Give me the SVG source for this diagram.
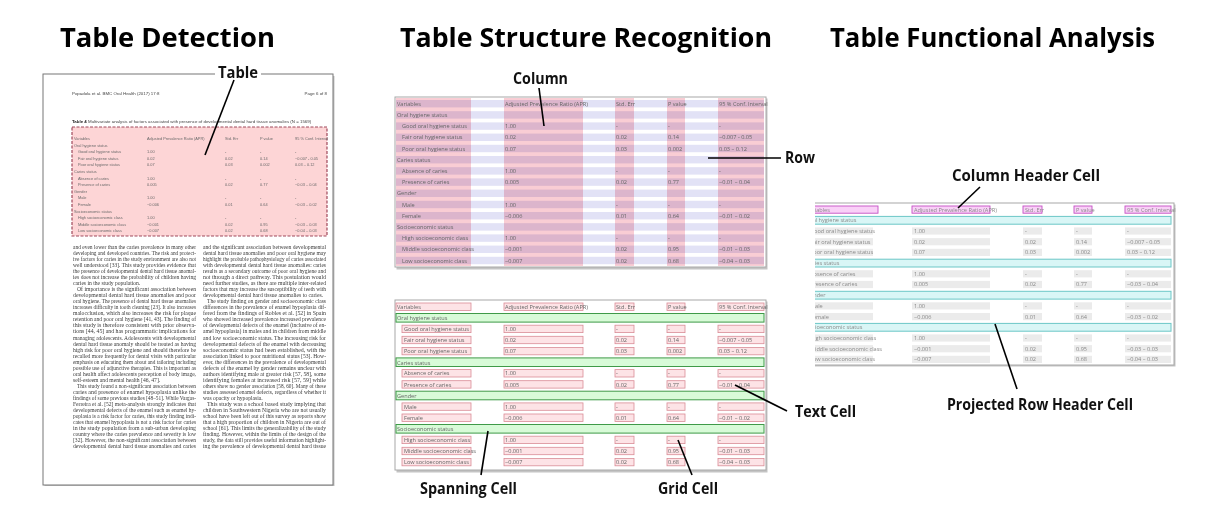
<svg xmlns="http://www.w3.org/2000/svg" width="1223" height="526" viewBox="0 0 1223 526">
<style>
.title{font-family:"Open Sans","Liberation Sans",sans-serif;font-weight:bold;font-size:27px;fill:#000}
.lbl{font-family:"Open Sans","Liberation Sans",sans-serif;font-weight:bold;font-size:16px;fill:#111}
.conn line{stroke:#000;stroke-width:1.6;fill:none}
.tt{font-family:"Open Sans","Liberation Sans",sans-serif;font-size:5.6px;fill:#666}
.frame{fill:#fff;stroke:#a8a8a8;stroke-width:1}
.shadow{fill:#c4c4c4}
.colband{fill:#f9cdd4;mix-blend-mode:multiply}
.rowband{fill:#e2e2f6}
.cell{fill:#fde3e6;stroke:#d98c96;stroke-width:0.8}
.span{fill:#d8fbd8;stroke:#3f9a48;stroke-width:1}
.hcell{fill:#f9d0f7;stroke:#c44fc4;stroke-width:0.9}
.gcell{fill:#ebebeb}
.pspan{fill:#d9f6f6;stroke:#6cc7c7;stroke-width:1}
.body{font-family:"Liberation Serif",serif;font-size:5.6px;fill:#3a3a3a}
.ptab{font-family:"Liberation Sans",sans-serif;font-size:3.9px;fill:#6a6a6a}
.phead{font-family:"Liberation Sans",sans-serif;font-size:4.4px;fill:#444}
.page{fill:#fff;stroke:#777;stroke-width:1}
</style>
<defs>
<clipPath id="clipFA"><rect x="815" y="190" width="380" height="190"/></clipPath>
</defs>
<rect width="1223" height="526" fill="#fff"/>

<g id="titles">
<text class="title" x="60" y="47" textLength="215" lengthAdjust="spacingAndGlyphs">Table Detection</text>
<text class="title" x="400" y="47" textLength="372" lengthAdjust="spacingAndGlyphs">Table Structure Recognition</text>
<text class="title" x="830" y="47" textLength="325" lengthAdjust="spacingAndGlyphs">Table Functional Analysis</text>
</g>

<g id="page-detection">
<rect x="44.5" y="76" width="290" height="410" class="shadow"/>
<rect x="43" y="74" width="290" height="411" class="page"/>
<text class="phead" x="72" y="95">Popadola et al. BMC Oral Health (2017) 17:8</text>
<text class="phead" x="327" y="95" text-anchor="end">Page 6 of 8</text>
<text class="phead" x="72" y="123" font-size="4.2"><tspan font-weight="bold" fill="#222">Table 4</tspan> Multivariate analysis of factors associated with presence of developmental dental hard tissue anomalies (N = 1569)</text>
<rect id="detected-table" x="72" y="127" width="255" height="109" fill="#fdd5d6" stroke="#a04a5c" stroke-width="1.2" stroke-dasharray="3 1.5"/>
<g class="ptab">
<text y="140"><tspan x="74">Variables</tspan><tspan x="147">Adjusted Prevalence Ratio (APR)</tspan><tspan x="225">Std. Err</tspan><tspan x="260">P value</tspan><tspan x="295">95 % Conf. Interval</tspan></text>
<text y="146.6"><tspan x="74">Oral hygiene status</tspan></text>
<text y="153.2"><tspan x="78">Good oral hygiene status</tspan><tspan x="147">1.00</tspan><tspan x="225">-</tspan><tspan x="260">-</tspan><tspan x="295">-</tspan></text>
<text y="159.8"><tspan x="78">Fair oral hygiene status</tspan><tspan x="147">0.02</tspan><tspan x="225">0.02</tspan><tspan x="260">0.14</tspan><tspan x="295">−0.007 - 0.05</tspan></text>
<text y="166.4"><tspan x="78">Poor oral hygiene status</tspan><tspan x="147">0.07</tspan><tspan x="225">0.03</tspan><tspan x="260">0.002</tspan><tspan x="295">0.03 – 0.12</tspan></text>
<text y="173"><tspan x="74">Caries status</tspan></text>
<text y="179.6"><tspan x="78">Absence of caries</tspan><tspan x="147">1.00</tspan><tspan x="225">-</tspan><tspan x="260">-</tspan><tspan x="295">-</tspan></text>
<text y="186.2"><tspan x="78">Presence of caries</tspan><tspan x="147">0.005</tspan><tspan x="225">0.02</tspan><tspan x="260">0.77</tspan><tspan x="295">−0.03 – 0.04</tspan></text>
<text y="192.8"><tspan x="74">Gender</tspan></text>
<text y="199.4"><tspan x="78">Male</tspan><tspan x="147">1.00</tspan><tspan x="225">-</tspan><tspan x="260">-</tspan><tspan x="295">-</tspan></text>
<text y="206"><tspan x="78">Female</tspan><tspan x="147">−0.006</tspan><tspan x="225">0.01</tspan><tspan x="260">0.64</tspan><tspan x="295">−0.03 – 0.02</tspan></text>
<text y="212.6"><tspan x="74">Socioeconomic status</tspan></text>
<text y="219.2"><tspan x="78">High socioeconomic class</tspan><tspan x="147">1.00</tspan><tspan x="225">-</tspan><tspan x="260">-</tspan><tspan x="295">-</tspan></text>
<text y="225.8"><tspan x="78">Middle socioeconomic class</tspan><tspan x="147">−0.001</tspan><tspan x="225">0.02</tspan><tspan x="260">0.95</tspan><tspan x="295">−0.03 – 0.03</tspan></text>
<text y="232.4"><tspan x="78">Low socioeconomic class</tspan><tspan x="147">−0.007</tspan><tspan x="225">0.02</tspan><tspan x="260">0.68</tspan><tspan x="295">−0.04 – 0.03</tspan></text>
</g>
<g class="body">
<text x="73" y="249" textLength="123" lengthAdjust="spacingAndGlyphs">and even lower than the caries prevalence in many other</text>
<text x="73" y="255" textLength="123" lengthAdjust="spacingAndGlyphs">developing and developed countries. The risk and protect-</text>
<text x="73" y="261.1" textLength="123" lengthAdjust="spacingAndGlyphs">ive factors for caries in the study environment are also not</text>
<text x="73" y="267.1" textLength="123" lengthAdjust="spacingAndGlyphs">well understood [33]. This study provides evidence that</text>
<text x="73" y="273.1" textLength="123" lengthAdjust="spacingAndGlyphs">the presence of developmental dental hard tissue anomal-</text>
<text x="73" y="279.2" textLength="123" lengthAdjust="spacingAndGlyphs">ies does not increase the probability of children having</text>
<text x="73" y="285.2">caries in the study population.</text>
<text x="77" y="291.2" textLength="119" lengthAdjust="spacingAndGlyphs">Of importance is the significant association between</text>
<text x="73" y="297.2" textLength="123" lengthAdjust="spacingAndGlyphs">developmental dental hard tissue anomalies and poor</text>
<text x="73" y="303.3" textLength="123" lengthAdjust="spacingAndGlyphs">oral hygiene. The presence of dental hard tissue anomalies</text>
<text x="73" y="309.3" textLength="123" lengthAdjust="spacingAndGlyphs">increases difficulty in tooth cleaning [23]. It also increases</text>
<text x="73" y="315.3" textLength="123" lengthAdjust="spacingAndGlyphs">malocclusion, which also increases the risk for plaque</text>
<text x="73" y="321.4" textLength="123" lengthAdjust="spacingAndGlyphs">retention and poor oral hygiene [41, 43]. The finding of</text>
<text x="73" y="327.4" textLength="123" lengthAdjust="spacingAndGlyphs">this study is therefore consistent with prior observa-</text>
<text x="73" y="333.4" textLength="123" lengthAdjust="spacingAndGlyphs">tions [44, 45] and has programmatic implications for</text>
<text x="73" y="339.5" textLength="123" lengthAdjust="spacingAndGlyphs">managing adolescents. Adolescents with developmental</text>
<text x="73" y="345.5" textLength="123" lengthAdjust="spacingAndGlyphs">dental hard tissue anomaly should be treated as having</text>
<text x="73" y="351.5" textLength="123" lengthAdjust="spacingAndGlyphs">high risk for poor oral hygiene and should therefore be</text>
<text x="73" y="357.5" textLength="123" lengthAdjust="spacingAndGlyphs">recalled more frequently for dental visits with particular</text>
<text x="73" y="363.6" textLength="123" lengthAdjust="spacingAndGlyphs">emphasis on educating them about and tailoring including</text>
<text x="73" y="369.6" textLength="123" lengthAdjust="spacingAndGlyphs">possible use of adjunctive therapies. This is important as</text>
<text x="73" y="375.6" textLength="123" lengthAdjust="spacingAndGlyphs">oral health affect adolescents perception of body image,</text>
<text x="73" y="381.7">self-esteem and mental health [46, 47].</text>
<text x="77" y="387.7" textLength="119" lengthAdjust="spacingAndGlyphs">This study found a non-significant association between</text>
<text x="73" y="393.7" textLength="123" lengthAdjust="spacingAndGlyphs">caries and presence of enamel hypoplasia unlike the</text>
<text x="73" y="399.8" textLength="123" lengthAdjust="spacingAndGlyphs">findings of some previous studies [48–51]. While Vargas-</text>
<text x="73" y="405.8" textLength="123" lengthAdjust="spacingAndGlyphs">Ferreira et al. [52] meta-analysis strongly indicates that</text>
<text x="73" y="411.8" textLength="123" lengthAdjust="spacingAndGlyphs">developmental defects of the enamel such as enamel hy-</text>
<text x="73" y="417.8" textLength="123" lengthAdjust="spacingAndGlyphs">poplasia is a risk factor for caries, this study finding indi-</text>
<text x="73" y="423.9" textLength="123" lengthAdjust="spacingAndGlyphs">cates that enamel hypoplasia is not a risk factor for caries</text>
<text x="73" y="429.9" textLength="123" lengthAdjust="spacingAndGlyphs">in the study population from a sub-urban developing</text>
<text x="73" y="435.9" textLength="123" lengthAdjust="spacingAndGlyphs">country where the caries prevalence and severity is low</text>
<text x="73" y="442" textLength="123" lengthAdjust="spacingAndGlyphs">[32]. However, the non-significant association between</text>
<text x="73" y="448" textLength="123" lengthAdjust="spacingAndGlyphs">developmental dental hard tissue anomalies and caries</text>

<text x="203" y="249" textLength="123" lengthAdjust="spacingAndGlyphs">and the significant association between developmental</text>
<text x="203" y="255" textLength="123" lengthAdjust="spacingAndGlyphs">dental hard tissue anomalies and poor oral hygiene may</text>
<text x="203" y="261.1" textLength="123" lengthAdjust="spacingAndGlyphs">highlight the probable pathophysiology of caries associated</text>
<text x="203" y="267.1" textLength="123" lengthAdjust="spacingAndGlyphs">with developmental dental hard tissue anomalies: caries</text>
<text x="203" y="273.1" textLength="123" lengthAdjust="spacingAndGlyphs">results as a secondary outcome of poor oral hygiene and</text>
<text x="203" y="279.2" textLength="123" lengthAdjust="spacingAndGlyphs">not through a direct pathway. This postulation would</text>
<text x="203" y="285.2" textLength="123" lengthAdjust="spacingAndGlyphs">need further studies, as there are multiple inter-related</text>
<text x="203" y="291.2" textLength="123" lengthAdjust="spacingAndGlyphs">factors that may increase the susceptibility of teeth with</text>
<text x="203" y="297.2" textLength="120" lengthAdjust="spacingAndGlyphs">developmental dental hard tissue anomalies to caries.</text>
<text x="207" y="303.3" textLength="119" lengthAdjust="spacingAndGlyphs">The study finding on gender and socioeconomic class</text>
<text x="203" y="309.3" textLength="123" lengthAdjust="spacingAndGlyphs">differences in the prevalence of enamel hypoplasia dif-</text>
<text x="203" y="315.3" textLength="123" lengthAdjust="spacingAndGlyphs">fered from the findings of Robles et al. [52] in Spain</text>
<text x="203" y="321.4" textLength="123" lengthAdjust="spacingAndGlyphs">who showed increased prevalence increased prevalence</text>
<text x="203" y="327.4" textLength="123" lengthAdjust="spacingAndGlyphs">of developmental defects of the enamel (inclusive of en-</text>
<text x="203" y="333.4" textLength="123" lengthAdjust="spacingAndGlyphs">amel hypoplasia) in males and in children from middle</text>
<text x="203" y="339.5" textLength="123" lengthAdjust="spacingAndGlyphs">and low socioeconomic status. The increasing risk for</text>
<text x="203" y="345.5" textLength="123" lengthAdjust="spacingAndGlyphs">developmental defects of the enamel with decreasing</text>
<text x="203" y="351.5" textLength="123" lengthAdjust="spacingAndGlyphs">socioeconomic status had been established, with the</text>
<text x="203" y="357.5" textLength="123" lengthAdjust="spacingAndGlyphs">association linked to poor nutritional status [53]. How-</text>
<text x="203" y="363.6" textLength="123" lengthAdjust="spacingAndGlyphs">ever, the differences in the prevalence of developmental</text>
<text x="203" y="369.6" textLength="123" lengthAdjust="spacingAndGlyphs">defects of the enamel by gender remains unclear with</text>
<text x="203" y="375.6" textLength="123" lengthAdjust="spacingAndGlyphs">authors identifying male at greater risk [57, 58], some</text>
<text x="203" y="381.7" textLength="123" lengthAdjust="spacingAndGlyphs">identifying females at increased risk [57, 59] while</text>
<text x="203" y="387.7" textLength="123" lengthAdjust="spacingAndGlyphs">others show no gender association [58, 60]. Many of these</text>
<text x="203" y="393.7" textLength="123" lengthAdjust="spacingAndGlyphs">studies assessed enamel defects, regardless of whether it</text>
<text x="203" y="399.8">was opacity or hypoplasia.</text>
<text x="207" y="405.8" textLength="119" lengthAdjust="spacingAndGlyphs">This study was a school based study implying that</text>
<text x="203" y="411.8" textLength="123" lengthAdjust="spacingAndGlyphs">children in Southwestern Nigeria who are not usually</text>
<text x="203" y="417.8" textLength="123" lengthAdjust="spacingAndGlyphs">school have been left out of this survey as reports show</text>
<text x="203" y="423.9" textLength="123" lengthAdjust="spacingAndGlyphs">that a high proportion of children in Nigeria are out of</text>
<text x="203" y="429.9" textLength="123" lengthAdjust="spacingAndGlyphs">school [61]. This limits the generalizability of the study</text>
<text x="203" y="435.9" textLength="123" lengthAdjust="spacingAndGlyphs">finding. However, within the limits of the design of the</text>
<text x="203" y="442" textLength="123" lengthAdjust="spacingAndGlyphs">study, the data still provides useful information highlight-</text>
<text x="203" y="448" textLength="123" lengthAdjust="spacingAndGlyphs">ing the prevalence of developmental dental hard tissue</text>
</g>
</g>

<g id="table-rows-columns">
<rect x="396.5" y="98.5" width="371" height="171" class="shadow"/>
<rect x="395" y="97" width="371" height="170" class="frame"/>
<g id="row-bands">
<rect class="rowband" x="396" y="100" width="368" height="7.4"/>
<rect class="rowband" x="396" y="111.2" width="368" height="7.4"/>
<rect class="rowband" x="396" y="122.4" width="368" height="7.4"/>
<rect class="rowband" x="396" y="133.6" width="368" height="7.4"/>
<rect class="rowband" x="396" y="144.8" width="368" height="7.4"/>
<rect class="rowband" x="396" y="156" width="368" height="7.4"/>
<rect class="rowband" x="396" y="167.2" width="368" height="7.4"/>
<rect class="rowband" x="396" y="178.4" width="368" height="7.4"/>
<rect class="rowband" x="396" y="189.6" width="368" height="7.4"/>
<rect class="rowband" x="396" y="200.8" width="368" height="7.4"/>
<rect class="rowband" x="396" y="212" width="368" height="7.4"/>
<rect class="rowband" x="396" y="223.2" width="368" height="7.4"/>
<rect class="rowband" x="396" y="234.4" width="368" height="7.4"/>
<rect class="rowband" x="396" y="245.6" width="368" height="7.4"/>
<rect class="rowband" x="396" y="256.8" width="368" height="7.4"/>
</g>
<g id="col-bands">
<rect class="colband" x="396" y="98" width="75" height="168"/>
<rect class="colband" x="504" y="98" width="79" height="168"/>
<rect class="colband" x="615" y="98" width="19" height="168"/>
<rect class="colband" x="667" y="98" width="18" height="168"/>
<rect class="colband" x="718" y="98" width="46" height="168"/>
</g>
<g class="tt">
<text y="105.8"><tspan x="397">Variables</tspan><tspan x="505">Adjusted Prevalence Ratio (APR)</tspan><tspan x="616">Std. Err</tspan><tspan x="668">P value</tspan><tspan x="719">95 % Conf. Interval</tspan></text>
<text y="117"><tspan x="397">Oral hygiene status</tspan></text>
<text y="128.2"><tspan x="402">Good oral hygiene status</tspan><tspan x="505">1.00</tspan><tspan x="616">-</tspan><tspan x="668">-</tspan><tspan x="719">-</tspan></text>
<text y="139.4"><tspan x="402">Fair oral hygiene status</tspan><tspan x="505">0.02</tspan><tspan x="616">0.02</tspan><tspan x="668">0.14</tspan><tspan x="719">−0.007 - 0.05</tspan></text>
<text y="150.6"><tspan x="402">Poor oral hygiene status</tspan><tspan x="505">0.07</tspan><tspan x="616">0.03</tspan><tspan x="668">0.002</tspan><tspan x="719">0.03 – 0.12</tspan></text>
<text y="161.8"><tspan x="397">Caries status</tspan></text>
<text y="173"><tspan x="402">Absence of caries</tspan><tspan x="505">1.00</tspan><tspan x="616">-</tspan><tspan x="668">-</tspan><tspan x="719">-</tspan></text>
<text y="184.2"><tspan x="402">Presence of caries</tspan><tspan x="505">0.005</tspan><tspan x="616">0.02</tspan><tspan x="668">0.77</tspan><tspan x="719">−0.01 – 0.04</tspan></text>
<text y="195.4"><tspan x="397">Gender</tspan></text>
<text y="206.6"><tspan x="402">Male</tspan><tspan x="505">1.00</tspan><tspan x="616">-</tspan><tspan x="668">-</tspan><tspan x="719">-</tspan></text>
<text y="217.8"><tspan x="402">Female</tspan><tspan x="505">−0.006</tspan><tspan x="616">0.01</tspan><tspan x="668">0.64</tspan><tspan x="719">−0.01 – 0.02</tspan></text>
<text y="229"><tspan x="397">Socioeconomic status</tspan></text>
<text y="240.2"><tspan x="402">High socioeconomic class</tspan><tspan x="505">1.00</tspan><tspan x="616">-</tspan><tspan x="668">-</tspan><tspan x="719">-</tspan></text>
<text y="251.4"><tspan x="402">Middle socioeconomic class</tspan><tspan x="505">−0.001</tspan><tspan x="616">0.02</tspan><tspan x="668">0.95</tspan><tspan x="719">−0.01 – 0.03</tspan></text>
<text y="262.6"><tspan x="402">Low socioeconomic class</tspan><tspan x="505">−0.007</tspan><tspan x="616">0.02</tspan><tspan x="668">0.68</tspan><tspan x="719">−0.04 – 0.03</tspan></text>
</g>
</g>

<g id="table-cells">
<rect x="396.5" y="301.5" width="371" height="171" class="shadow"/>
<rect x="395" y="300" width="371" height="170" class="frame"/>
<g id="grid-cells">
<rect class="cell" x="396" y="303" width="75" height="7.4"/><rect class="cell" x="504" y="303" width="79" height="7.4"/><rect class="cell" x="615" y="303" width="19" height="7.4"/><rect class="cell" x="667" y="303" width="18" height="7.4"/><rect class="cell" x="718" y="303" width="46" height="7.4"/>
<rect class="cell" x="402" y="325.2" width="69" height="7.4"/><rect class="cell" x="504" y="325.2" width="79" height="7.4"/><rect class="cell" x="615" y="325.2" width="19" height="7.4"/><rect class="cell" x="667" y="325.2" width="18" height="7.4"/><rect class="cell" x="718" y="325.2" width="46" height="7.4"/>
<rect class="cell" x="402" y="336.3" width="69" height="7.4"/><rect class="cell" x="504" y="336.3" width="79" height="7.4"/><rect class="cell" x="615" y="336.3" width="19" height="7.4"/><rect class="cell" x="667" y="336.3" width="18" height="7.4"/><rect class="cell" x="718" y="336.3" width="46" height="7.4"/>
<rect class="cell" x="402" y="347.4" width="69" height="7.4"/><rect class="cell" x="504" y="347.4" width="79" height="7.4"/><rect class="cell" x="615" y="347.4" width="19" height="7.4"/><rect class="cell" x="667" y="347.4" width="18" height="7.4"/><rect class="cell" x="718" y="347.4" width="46" height="7.4"/>
<rect class="cell" x="402" y="369.6" width="69" height="7.4"/><rect class="cell" x="504" y="369.6" width="79" height="7.4"/><rect class="cell" x="615" y="369.6" width="19" height="7.4"/><rect class="cell" x="667" y="369.6" width="18" height="7.4"/><rect class="cell" x="718" y="369.6" width="46" height="7.4"/>
<rect class="cell" x="402" y="380.7" width="69" height="7.4"/><rect class="cell" x="504" y="380.7" width="79" height="7.4"/><rect class="cell" x="615" y="380.7" width="19" height="7.4"/><rect class="cell" x="667" y="380.7" width="18" height="7.4"/><rect class="cell" x="718" y="380.7" width="46" height="7.4"/>
<rect class="cell" x="402" y="402.9" width="69" height="7.4"/><rect class="cell" x="504" y="402.9" width="79" height="7.4"/><rect class="cell" x="615" y="402.9" width="19" height="7.4"/><rect class="cell" x="667" y="402.9" width="18" height="7.4"/><rect class="cell" x="718" y="402.9" width="46" height="7.4"/>
<rect class="cell" x="402" y="414" width="69" height="7.4"/><rect class="cell" x="504" y="414" width="79" height="7.4"/><rect class="cell" x="615" y="414" width="19" height="7.4"/><rect class="cell" x="667" y="414" width="18" height="7.4"/><rect class="cell" x="718" y="414" width="46" height="7.4"/>
<rect class="cell" x="402" y="436.2" width="69" height="7.4"/><rect class="cell" x="504" y="436.2" width="79" height="7.4"/><rect class="cell" x="615" y="436.2" width="19" height="7.4"/><rect class="cell" x="667" y="436.2" width="18" height="7.4"/><rect class="cell" x="718" y="436.2" width="46" height="7.4"/>
<rect class="cell" x="402" y="447.3" width="69" height="7.4"/><rect class="cell" x="504" y="447.3" width="79" height="7.4"/><rect class="cell" x="615" y="447.3" width="19" height="7.4"/><rect class="cell" x="667" y="447.3" width="18" height="7.4"/><rect class="cell" x="718" y="447.3" width="46" height="7.4"/>
<rect class="cell" x="402" y="458.4" width="69" height="7.4"/><rect class="cell" x="504" y="458.4" width="79" height="7.4"/><rect class="cell" x="615" y="458.4" width="19" height="7.4"/><rect class="cell" x="667" y="458.4" width="18" height="7.4"/><rect class="cell" x="718" y="458.4" width="46" height="7.4"/>
</g>
<g id="spanning-cells">
<rect class="span" x="396" y="313.5" width="368" height="8.6"/>
<rect class="span" x="396" y="357.9" width="368" height="8.6"/>
<rect class="span" x="396" y="391.2" width="368" height="8.6"/>
<rect class="span" x="396" y="424.5" width="368" height="8.6"/>
</g>
<g class="tt">
<text y="308.8"><tspan x="397">Variables</tspan><tspan x="505">Adjusted Prevalence Ratio (APR)</tspan><tspan x="616">Std. Err</tspan><tspan x="668">P value</tspan><tspan x="719">95 % Conf. Interval</tspan></text>
<text y="320.2"><tspan x="397">Oral hygiene status</tspan></text>
<text y="331"><tspan x="404">Good oral hygiene status</tspan><tspan x="505">1.00</tspan><tspan x="616">-</tspan><tspan x="668">-</tspan><tspan x="719">-</tspan></text>
<text y="342.1"><tspan x="404">Fair oral hygiene status</tspan><tspan x="505">0.02</tspan><tspan x="616">0.02</tspan><tspan x="668">0.14</tspan><tspan x="719">−0.007 - 0.05</tspan></text>
<text y="353.2"><tspan x="404">Poor oral hygiene status</tspan><tspan x="505">0.07</tspan><tspan x="616">0.03</tspan><tspan x="668">0.002</tspan><tspan x="719">0.03 – 0.12</tspan></text>
<text y="364.6"><tspan x="397">Caries status</tspan></text>
<text y="375.4"><tspan x="404">Absence of caries</tspan><tspan x="505">1.00</tspan><tspan x="616">-</tspan><tspan x="668">-</tspan><tspan x="719">-</tspan></text>
<text y="386.5"><tspan x="404">Presence of caries</tspan><tspan x="505">0.005</tspan><tspan x="616">0.02</tspan><tspan x="668">0.77</tspan><tspan x="719">−0.01 – 0.04</tspan></text>
<text y="397.9"><tspan x="397">Gender</tspan></text>
<text y="408.7"><tspan x="404">Male</tspan><tspan x="505">1.00</tspan><tspan x="616">-</tspan><tspan x="668">-</tspan><tspan x="719">-</tspan></text>
<text y="419.8"><tspan x="404">Female</tspan><tspan x="505">−0.006</tspan><tspan x="616">0.01</tspan><tspan x="668">0.64</tspan><tspan x="719">−0.01 – 0.02</tspan></text>
<text y="431.2"><tspan x="397">Socioeconomic status</tspan></text>
<text y="442"><tspan x="404">High socioeconomic class</tspan><tspan x="505">1.00</tspan><tspan x="616">-</tspan><tspan x="668">-</tspan><tspan x="719">-</tspan></text>
<text y="453.1"><tspan x="404">Middle socioeconomic class</tspan><tspan x="505">−0.001</tspan><tspan x="616">0.02</tspan><tspan x="668">0.95</tspan><tspan x="719">−0.01 – 0.03</tspan></text>
<text y="464.2"><tspan x="404">Low socioeconomic class</tspan><tspan x="505">−0.007</tspan><tspan x="616">0.02</tspan><tspan x="668">0.68</tspan><tspan x="719">−0.04 – 0.03</tspan></text>
</g>
</g>

<g id="table-functional" clip-path="url(#clipFA)">
<rect x="801.5" y="204.5" width="374" height="162" class="shadow"/>
<rect x="800" y="203" width="374" height="162" class="frame"/>
<g id="column-header-cells">
<rect class="hcell" x="804" y="206" width="74" height="7.2"/><rect class="hcell" x="912" y="206" width="78" height="7.2"/><rect class="hcell" x="1023" y="206" width="19" height="7.2"/><rect class="hcell" x="1074" y="206" width="18" height="7.2"/><rect class="hcell" x="1125" y="206" width="46" height="7.2"/>
</g>
<g id="projected-row-headers">
<rect class="pspan" x="804" y="216.4" width="367" height="7.8"/>
<rect class="pspan" x="804" y="259.2" width="367" height="7.8"/>
<rect class="pspan" x="804" y="291.3" width="367" height="7.8"/>
<rect class="pspan" x="804" y="323.4" width="367" height="7.8"/>
</g>
<g id="data-cells">
<rect class="gcell" x="808" y="227.4" width="65" height="7.2"/><rect class="gcell" x="912" y="227.4" width="78" height="7.2"/><rect class="gcell" x="1023" y="227.4" width="19" height="7.2"/><rect class="gcell" x="1074" y="227.4" width="18" height="7.2"/><rect class="gcell" x="1125" y="227.4" width="46" height="7.2"/>
<rect class="gcell" x="808" y="238.1" width="65" height="7.2"/><rect class="gcell" x="912" y="238.1" width="78" height="7.2"/><rect class="gcell" x="1023" y="238.1" width="19" height="7.2"/><rect class="gcell" x="1074" y="238.1" width="18" height="7.2"/><rect class="gcell" x="1125" y="238.1" width="46" height="7.2"/>
<rect class="gcell" x="808" y="248.8" width="65" height="7.2"/><rect class="gcell" x="912" y="248.8" width="78" height="7.2"/><rect class="gcell" x="1023" y="248.8" width="19" height="7.2"/><rect class="gcell" x="1074" y="248.8" width="18" height="7.2"/><rect class="gcell" x="1125" y="248.8" width="46" height="7.2"/>
<rect class="gcell" x="808" y="270.2" width="65" height="7.2"/><rect class="gcell" x="912" y="270.2" width="78" height="7.2"/><rect class="gcell" x="1023" y="270.2" width="19" height="7.2"/><rect class="gcell" x="1074" y="270.2" width="18" height="7.2"/><rect class="gcell" x="1125" y="270.2" width="46" height="7.2"/>
<rect class="gcell" x="808" y="280.9" width="65" height="7.2"/><rect class="gcell" x="912" y="280.9" width="78" height="7.2"/><rect class="gcell" x="1023" y="280.9" width="19" height="7.2"/><rect class="gcell" x="1074" y="280.9" width="18" height="7.2"/><rect class="gcell" x="1125" y="280.9" width="46" height="7.2"/>
<rect class="gcell" x="808" y="302.3" width="65" height="7.2"/><rect class="gcell" x="912" y="302.3" width="78" height="7.2"/><rect class="gcell" x="1023" y="302.3" width="19" height="7.2"/><rect class="gcell" x="1074" y="302.3" width="18" height="7.2"/><rect class="gcell" x="1125" y="302.3" width="46" height="7.2"/>
<rect class="gcell" x="808" y="313" width="65" height="7.2"/><rect class="gcell" x="912" y="313" width="78" height="7.2"/><rect class="gcell" x="1023" y="313" width="19" height="7.2"/><rect class="gcell" x="1074" y="313" width="18" height="7.2"/><rect class="gcell" x="1125" y="313" width="46" height="7.2"/>
<rect class="gcell" x="808" y="334.4" width="65" height="7.2"/><rect class="gcell" x="912" y="334.4" width="78" height="7.2"/><rect class="gcell" x="1023" y="334.4" width="19" height="7.2"/><rect class="gcell" x="1074" y="334.4" width="18" height="7.2"/><rect class="gcell" x="1125" y="334.4" width="46" height="7.2"/>
<rect class="gcell" x="808" y="345.1" width="65" height="7.2"/><rect class="gcell" x="912" y="345.1" width="78" height="7.2"/><rect class="gcell" x="1023" y="345.1" width="19" height="7.2"/><rect class="gcell" x="1074" y="345.1" width="18" height="7.2"/><rect class="gcell" x="1125" y="345.1" width="46" height="7.2"/>
<rect class="gcell" x="808" y="355.8" width="65" height="7.2"/><rect class="gcell" x="912" y="355.8" width="78" height="7.2"/><rect class="gcell" x="1023" y="355.8" width="19" height="7.2"/><rect class="gcell" x="1074" y="355.8" width="18" height="7.2"/><rect class="gcell" x="1125" y="355.8" width="46" height="7.2"/>
</g>
<g class="tt" style="fill:#8a8a8a">
<text y="211.5"><tspan x="806">Variables</tspan><tspan x="914">Adjusted Prevalence Ratio (APR)</tspan><tspan x="1025">Std. Err</tspan><tspan x="1076">P value</tspan><tspan x="1127">95 % Conf. Interval</tspan></text>
<text y="222.4"><tspan x="806">Oral hygiene status</tspan></text>
<text y="232.9"><tspan x="810">Good oral hygiene status</tspan><tspan x="914">1.00</tspan><tspan x="1025">-</tspan><tspan x="1076">-</tspan><tspan x="1127">-</tspan></text>
<text y="243.6"><tspan x="810">Fair oral hygiene status</tspan><tspan x="914">0.02</tspan><tspan x="1025">0.02</tspan><tspan x="1076">0.14</tspan><tspan x="1127">−0.007 - 0.05</tspan></text>
<text y="254.3"><tspan x="810">Poor oral hygiene status</tspan><tspan x="914">0.07</tspan><tspan x="1025">0.03</tspan><tspan x="1076">0.002</tspan><tspan x="1127">0.03 – 0.12</tspan></text>
<text y="265.2"><tspan x="806">Caries status</tspan></text>
<text y="275.7"><tspan x="810">Absence of caries</tspan><tspan x="914">1.00</tspan><tspan x="1025">-</tspan><tspan x="1076">-</tspan><tspan x="1127">-</tspan></text>
<text y="286.4"><tspan x="810">Presence of caries</tspan><tspan x="914">0.005</tspan><tspan x="1025">0.02</tspan><tspan x="1076">0.77</tspan><tspan x="1127">−0.03 – 0.04</tspan></text>
<text y="297.3"><tspan x="806">Gender</tspan></text>
<text y="307.8"><tspan x="810">Male</tspan><tspan x="914">1.00</tspan><tspan x="1025">-</tspan><tspan x="1076">-</tspan><tspan x="1127">-</tspan></text>
<text y="318.5"><tspan x="810">Female</tspan><tspan x="914">−0.006</tspan><tspan x="1025">0.01</tspan><tspan x="1076">0.64</tspan><tspan x="1127">−0.03 – 0.02</tspan></text>
<text y="329.4"><tspan x="806">Socioeconomic status</tspan></text>
<text y="339.9"><tspan x="810">High socioeconomic class</tspan><tspan x="914">1.00</tspan><tspan x="1025">-</tspan><tspan x="1076">-</tspan><tspan x="1127">-</tspan></text>
<text y="350.6"><tspan x="810">Middle socioeconomic class</tspan><tspan x="914">−0.001</tspan><tspan x="1025">0.02</tspan><tspan x="1076">0.95</tspan><tspan x="1127">−0.03 – 0.03</tspan></text>
<text y="361.3"><tspan x="810">Low socioeconomic class</tspan><tspan x="914">−0.007</tspan><tspan x="1025">0.02</tspan><tspan x="1076">0.68</tspan><tspan x="1127">−0.04 – 0.03</tspan></text>
</g>
</g>

<g id="connectors" class="conn">
<line x1="234" y1="80" x2="205" y2="155"/>
<line x1="539" y1="88" x2="544" y2="126"/>
<line x1="708" y1="158" x2="781" y2="158"/>
<line x1="735" y1="385" x2="787" y2="411"/>
<line x1="488" y1="431" x2="481" y2="475"/>
<line x1="678" y1="440" x2="692" y2="475"/>
<line x1="980" y1="187" x2="958" y2="208"/>
<line x1="995" y1="324" x2="1017" y2="389"/>
</g>

<g id="labels">
<g id="label-table"><rect x="215" y="62" width="46" height="17" fill="#fff"/><text class="lbl" x="218" y="78" textLength="40" lengthAdjust="spacingAndGlyphs">Table</text></g>
<g id="label-column"><text class="lbl" x="513" y="84" textLength="55" lengthAdjust="spacingAndGlyphs">Column</text></g>
<g id="label-row"><text class="lbl" x="785" y="163" textLength="30" lengthAdjust="spacingAndGlyphs">Row</text></g>
<g id="label-text-cell"><text class="lbl" x="795" y="417" textLength="61" lengthAdjust="spacingAndGlyphs">Text Cell</text></g>
<g id="label-spanning-cell"><text class="lbl" x="420" y="494" textLength="97" lengthAdjust="spacingAndGlyphs">Spanning Cell</text></g>
<g id="label-grid-cell"><text class="lbl" x="658" y="494" textLength="60" lengthAdjust="spacingAndGlyphs">Grid Cell</text></g>
<g id="label-column-header"><text class="lbl" x="952" y="181" textLength="148" lengthAdjust="spacingAndGlyphs">Column Header Cell</text></g>
<g id="label-projected"><text class="lbl" x="947" y="410" textLength="186" lengthAdjust="spacingAndGlyphs">Projected Row Header Cell</text></g>
</g>
</svg>
